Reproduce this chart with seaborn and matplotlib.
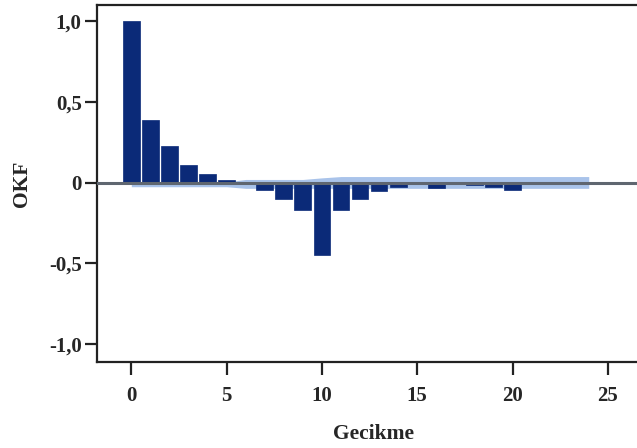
import numpy as np
import pandas as pd
import matplotlib
matplotlib.use("Agg")
import matplotlib.pyplot as plt
import seaborn as sns

lags = list(range(0, 25))
acf_values = [1.00, 0.39, 0.225, 0.11, 0.055, 0.018, 0.004, -0.043, -0.098, -0.17,
              -0.445, -0.17, -0.098, -0.053, -0.027, -0.01, -0.03, 0.004, -0.015, -0.028,
              -0.047, -0.008, 0.0, 0.0, 0.0]
conf_upper = [0.005, 0.005, 0.005, 0.005, 0.005, 0.005, 0.02, 0.02, 0.02, 0.02,
              0.03, 0.038, 0.038, 0.038, 0.038, 0.038, 0.038, 0.038, 0.038, 0.038,
              0.038, 0.038, 0.038, 0.038, 0.038]
conf_lower = [-0.025, -0.025, -0.025, -0.025, -0.025, -0.025, -0.035, -0.035, -0.035, -0.035,
              -0.035, -0.035, -0.035, -0.035, -0.035, -0.035, -0.035, -0.035, -0.035, -0.035,
              -0.035, -0.035, -0.035, -0.035, -0.035]
x_ticks = [0, 5, 10, 15, 20, 25]
y_ticks = [-1.0, -0.5, 0.0, 0.5, 1.0]
y_tick_labels = ["-1,0", "-0,5", "0", "0,5", "1,0"]

BAR_COLOR = "#0b2a78"
BAND_COLOR = "#a9c3ea"
LINE_COLOR = "#5f6670"

sns.set_style("white")
plt.rcParams["font.family"] = ["Liberation Serif", "DejaVu Serif"]
plt.rcParams["font.weight"] = "bold"

df = pd.DataFrame({"lag": lags, "acf": acf_values})

fig = plt.figure(figsize=(6.37, 4.48), dpi=100)
ax = fig.add_axes([97 / 637, 86 / 448, 1 - 97 / 637 + 0.02, 357 / 448])

# confidence band behind the bars
ax.fill_between(lags, conf_lower, conf_upper, color=BAND_COLOR, lw=0, zorder=1)
sns.barplot(data=df, x="lag", y="acf", native_scale=True, color=BAR_COLOR,
            width=0.88, saturation=1, edgecolor=BAR_COLOR, linewidth=0.5,
            ax=ax, zorder=2)
ax.axhline(0, color=LINE_COLOR, lw=2.2, zorder=3)

ax.set_xlim(-1.8, 27.2)
ax.set_ylim(-1.11, 1.10)
ax.set_xticks(x_ticks)
ax.set_xticklabels([str(t) for t in x_ticks])
ax.set_yticks(y_ticks)
ax.set_yticklabels(y_tick_labels)

for side in ["left", "bottom", "top", "right"]:
    ax.spines[side].set_linewidth(1.6)
    ax.spines[side].set_color("#222222")

ax.tick_params(axis="both", direction="out", length=9, width=1.6,
               color="#222222", labelsize=15, bottom=True, left=True)
ax.tick_params(axis="x", pad=8)
ax.tick_params(axis="y", pad=2)

ax.set_xlabel("Gecikme", fontsize=15.5, fontweight="bold", labelpad=13)
ax.set_ylabel("OKF", fontsize=15.5, fontweight="bold", labelpad=12)

fig.savefig("out.png", dpi=100)
